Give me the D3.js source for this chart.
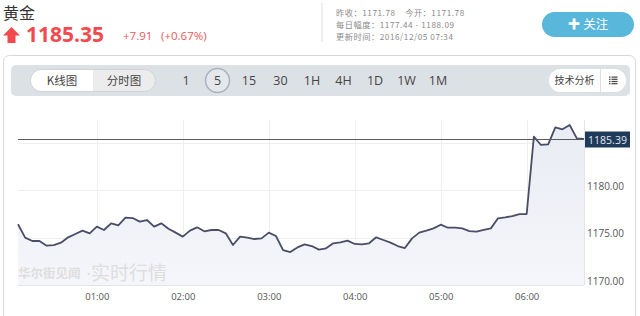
<!DOCTYPE html>
<html>
<head>
<meta charset="utf-8">
<script src="https://cdn.jsdelivr.net/npm/d3@7"></script>
<style>
  html, body { margin: 0; padding: 0; background: #fff; }
  svg { display: block; }
  text { font-family: "Open Sans", "Noto Sans CJK SC", sans-serif; }
  .cjk { font-family: "Noto Sans CJK SC", sans-serif; }
</style>
</head>
<body>
<svg id="chart" width="640" height="316"></svg>
<script>
// ---------------- DATA ----------------
const times = [
  "00:05","00:10","00:15","00:20","00:25","00:30","00:35","00:40","00:45","00:50","00:55",
  "01:00","01:05","01:10","01:15","01:20","01:25","01:30","01:35","01:40","01:45","01:50","01:55",
  "02:00","02:05","02:10","02:15","02:20","02:25","02:30","02:35","02:40","02:45","02:50","02:55",
  "03:00","03:05","03:10","03:15","03:20","03:25","03:30","03:35","03:40","03:45","03:50","03:55",
  "04:00","04:05","04:10","04:15","04:20","04:25","04:30","04:35","04:40","04:45","04:50","04:55",
  "05:00","05:05","05:10","05:15","05:20","05:25","05:30","05:35","05:40","05:45","05:50","05:55",
  "06:00","06:05","06:10","06:15","06:20","06:25","06:30","06:35","06:40"
];
const prices = [
  1176.39,1174.98,1174.63,1174.63,1174.14,1174.20,1174.45,1175.02,1175.37,1175.72,1175.44,
  1176.14,1175.79,1176.49,1176.28,1177.09,1177.05,1176.67,1176.84,1176.14,1176.49,1175.93,1175.51,
  1175.09,1175.72,1176.07,1175.65,1175.79,1175.79,1175.44,1174.21,1175.09,1174.98,1174.84,1174.91,
  1175.51,1175.16,1173.68,1173.47,1173.96,1174.28,1174.10,1173.72,1173.86,1174.39,1174.49,1174.67,
  1174.32,1174.28,1174.39,1175.02,1174.74,1174.46,1174.10,1173.89,1174.91,1175.51,1175.72,1175.96,
  1176.35,1176.03,1176.03,1175.96,1175.68,1175.61,1175.79,1175.96,1177.02,1177.12,1177.26,1177.47,
  1177.47,1185.61,1184.74,1184.81,1186.60,1186.39,1186.84,1185.44,1185.39
];
const gridTicks = [1170, 1175, 1180, 1185];
const yTickLabels = [1170, 1175, 1180];
const lastPrice = 1185.39;
const periods = ["1","5","15","30","1H","4H","1D","1W","1M"];
const activePeriod = "5";
const title = "黄金";
const quote = "1185.35";
const change = "+7.91";
const changePct = "(+0.67%)";
const infoLines = ["昨收：1171.78    今开：1171.78", "每日幅度：1177.44 - 1188.09", "更新时间：2016/12/05 07:34"];

// ---------------- SETUP ----------------
const svg = d3.select("#chart");
const parse = d3.timeParse("%Y-%m-%d %H:%M");
const data = times.map((t, i) => ({ t: parse("2016-12-05 " + t), v: prices[i] }));

const plot = { left: 18, right: 584, top: 120, bottom: 285 };
const x = d3.scaleTime()
  .domain(d3.extent(data, d => d.t))
  .range([plot.left, plot.right]);
const y = d3.scaleLinear()
  .domain([1170, 1170 + (plot.bottom - plot.top) / 9.5])
  .range([plot.bottom, plot.top]);

// ---------------- HEADER ----------------
svg.append("text").attr("class", "cjk").attr("x", 3).attr("y", 19)
  .attr("font-size", 16).attr("fill", "#333").text(title);

// up arrow
svg.append("path")
  .attr("d", "M11.5,27 L20,35.5 L15.5,35.5 L15.5,43 L7.5,43 L7.5,35.5 L3,35.5 Z")
  .attr("fill", "#f24a4f");
svg.append("text").attr("x", 26).attr("y", 42)
  .attr("font-size", 21).attr("font-weight", "bold").attr("fill", "#f24a4f")
  .attr("font-family", "'Open Sans', sans-serif").text(quote);
svg.append("text").attr("x", 123).attr("y", 40)
  .attr("font-size", 11.5).attr("fill", "#e8585c").text(change);
svg.append("text").attr("x", 161).attr("y", 40)
  .attr("font-size", 11.5).attr("fill", "#e8585c").text(changePct);

svg.append("line").attr("x1", 322).attr("x2", 322).attr("y1", 3).attr("y2", 42)
  .attr("stroke", "#ddd");
infoLines.forEach((s, i) => {
  svg.append("text").attr("class", "cjk").attr("x", 336).attr("y", 15.5 + i * 12)
    .attr("font-size", 8.2).attr("letter-spacing", 0.55).attr("fill", "#8a8a8a")
    .attr("xml:space", "preserve").text(s);
});

// follow button
svg.append("rect").attr("x", 542).attr("y", 12).attr("width", 92).attr("height", 25)
  .attr("rx", 12.5).attr("fill", "#58b7da");
svg.append("text").attr("class", "cjk").attr("x", 588).attr("y", 29)
  .attr("text-anchor", "middle").attr("font-size", 12.5).attr("fill", "#fff").text("✚ 关注");

// ---------------- PANEL ----------------
svg.append("rect").attr("x", 3.5).attr("y", 55.5).attr("width", 632).attr("height", 280)
  .attr("rx", 6).attr("fill", "#fff").attr("stroke", "#d8d8d8");

// toolbar
svg.append("rect").attr("x", 11).attr("y", 65).attr("width", 619).attr("height", 31)
  .attr("rx", 5).attr("fill", "#dce1e6");
// segmented control
svg.append("rect").attr("x", 30.5).attr("y", 69.5).attr("width", 125).attr("height", 22)
  .attr("rx", 11).attr("fill", "#ececec").attr("stroke", "#cfd3d7");
svg.append("path")
  .attr("d", "M93,70 L41.5,70 A10.5,10.5 0 0 0 41.5,91 L93,91 Z")
  .attr("fill", "#fff");
svg.append("text").attr("class", "cjk").attr("x", 62).attr("y", 84.5)
  .attr("text-anchor", "middle").attr("font-size", 11.5).attr("fill", "#444").text("K线图");
svg.append("text").attr("class", "cjk").attr("x", 124).attr("y", 84.5)
  .attr("text-anchor", "middle").attr("font-size", 11.5).attr("fill", "#444").text("分时图");

const periodX = d3.scalePoint().domain(periods).range([186, 438]);
periods.forEach(p => {
  if (p === activePeriod) {
    svg.append("circle").attr("cx", periodX(p)).attr("cy", 80.5).attr("r", 12)
      .attr("fill", "#e4e8ec").attr("stroke", "#a9b2bb").attr("stroke-width", 1.5);
  }
  svg.append("text").attr("x", periodX(p)).attr("y", 85)
    .attr("text-anchor", "middle").attr("font-size", 12.5).attr("fill", "#444")
    .attr("font-family", "'Liberation Serif', serif").text(p);
});

// tech analysis pill
svg.append("rect").attr("x", 549).attr("y", 69).attr("width", 77).attr("height", 23)
  .attr("rx", 11.5).attr("fill", "#fff");
svg.append("line").attr("x1", 600.5).attr("x2", 600.5).attr("y1", 69).attr("y2", 92)
  .attr("stroke", "#dde1e5");
svg.append("text").attr("class", "cjk").attr("x", 574.5).attr("y", 84)
  .attr("text-anchor", "middle").attr("font-size", 10).attr("fill", "#444").text("技术分析");
[0, 1, 2, 3].forEach(i => {
  svg.append("rect").attr("x", 609).attr("y", 76.5 + i * 2.2).attr("width", 1.5).attr("height", 1.2).attr("fill", "#444");
  svg.append("rect").attr("x", 611.5).attr("y", 76.5 + i * 2.2).attr("width", 6).attr("height", 1.2).attr("fill", "#444");
});

// ---------------- CHART ----------------
const defs = svg.append("defs");
const grad = defs.append("linearGradient").attr("id", "areaGrad")
  .attr("x1", 0).attr("x2", 0).attr("y1", 0).attr("y2", 1);
grad.append("stop").attr("offset", "0%").attr("stop-color", "#e9ecf4");
grad.append("stop").attr("offset", "100%").attr("stop-color", "#f5f6fa");

// grid
const xTicks = x.ticks(d3.timeHour.every(1));
svg.append("g").selectAll("line").data(xTicks).join("line")
  .attr("x1", d => Math.round(x(d)) + 0.5).attr("x2", d => Math.round(x(d)) + 0.5)
  .attr("y1", plot.top).attr("y2", plot.bottom)
  .attr("stroke", "#eeeff2");
svg.append("g").selectAll("line").data(gridTicks).join("line")
  .attr("x1", plot.left).attr("x2", plot.right)
  .attr("y1", d => Math.round(y(d)) + 0.5).attr("y2", d => Math.round(y(d)) + 0.5)
  .attr("stroke", "#eeeff2");

// area + line
svg.append("path").datum(data)
  .attr("d", d3.area().x(d => x(d.t)).y0(plot.bottom).y1(d => y(d.v)))
  .attr("fill", "url(#areaGrad)");

// right border of plot and bottom axis
svg.append("line").attr("x1", plot.right + 0.5).attr("x2", plot.right + 0.5)
  .attr("y1", plot.top).attr("y2", plot.bottom).attr("stroke", "#e3e5ea");
svg.append("line").attr("x1", plot.left).attr("x2", plot.right)
  .attr("y1", plot.bottom + 0.5).attr("y2", plot.bottom + 0.5).attr("stroke", "#e3e5ea");

svg.append("path").datum(data)
  .attr("d", d3.line().x(d => x(d.t)).y(d => y(d.v)))
  .attr("fill", "none").attr("stroke", "#4a4d66").attr("stroke-width", 1.8)
  .attr("stroke-linejoin", "round");

// last price line
const ly = Math.round(y(lastPrice)) + 0.5;
svg.append("line").attr("x1", plot.left).attr("x2", plot.right)
  .attr("y1", ly).attr("y2", ly).attr("stroke", "#5a5a5a").attr("stroke-width", 1);

// x axis labels
const xAxis = d3.axisBottom(x).tickValues(xTicks).tickFormat(d3.timeFormat("%H:%M")).tickSize(0).tickPadding(8);
const gx = svg.append("g").attr("transform", `translate(0,${plot.bottom})`).call(xAxis);
gx.select(".domain").remove();
gx.selectAll("text").attr("font-size", 9.5).attr("fill", "#555")
  .attr("font-family", "'Open Sans', sans-serif");

// y axis labels
const yAxis = d3.axisRight(y).tickValues(yTickLabels).tickFormat(d3.format(".2f")).tickSize(0).tickPadding(3);
const gy = svg.append("g").attr("transform", `translate(${plot.right},0)`).call(yAxis);
gy.select(".domain").remove();
gy.selectAll("text").attr("font-size", 10).attr("fill", "#555").attr("dy", "-0.1em")
  .attr("font-family", "'Open Sans', sans-serif");

// last price label
svg.append("rect").attr("x", plot.right + 1).attr("y", ly - 8).attr("width", 45).attr("height", 16)
  .attr("fill", "#1f3b5b");
svg.append("text").attr("x", plot.right + 23.5).attr("y", ly + 4)
  .attr("text-anchor", "middle").attr("font-size", 10.5).attr("fill", "#e4e9f0")
  .attr("font-family", "'Open Sans', sans-serif").text(d3.format(".2f")(lastPrice));

// watermark
svg.append("text").attr("class", "cjk").attr("x", 18).attr("y", 278)
  .attr("font-size", 12.5).attr("font-weight", "bold").attr("fill", "#dedede").text("华尔街见闻");
svg.append("text").attr("x", 86).attr("y", 280)
  .attr("font-size", 19).attr("fill", "#dedede")
  .attr("font-family", "'Open Sans', 'Noto Sans CJK SC', sans-serif").text("·实时行情");
</script>
</body>
</html>
